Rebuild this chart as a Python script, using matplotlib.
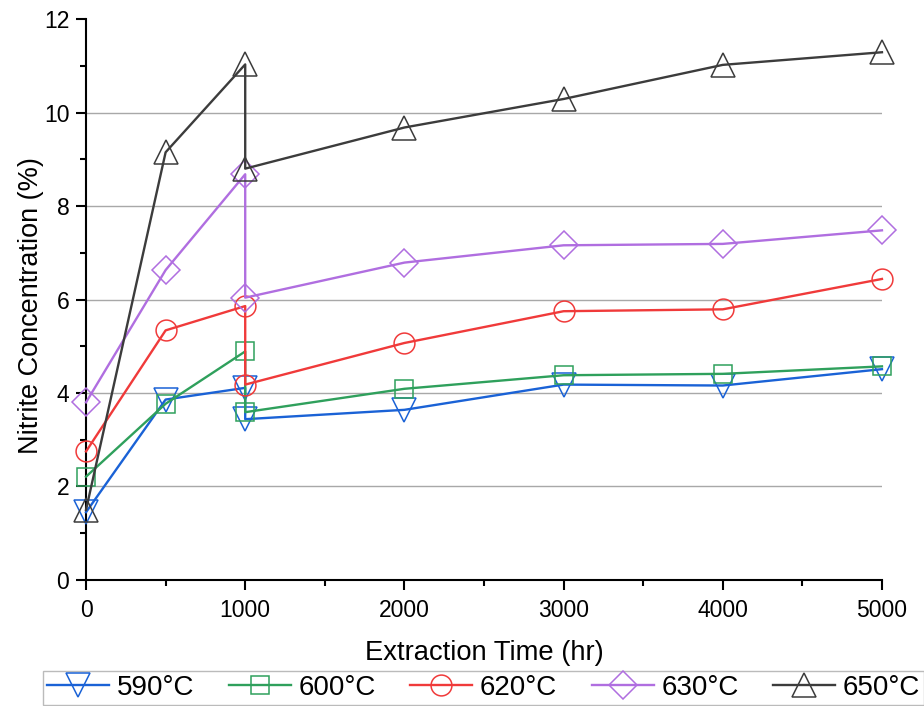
import matplotlib
matplotlib.use("Agg")
import matplotlib.pyplot as plt
from matplotlib.ticker import MultipleLocator

plt.rcParams['font.family'] = ['Liberation Sans', 'DejaVu Sans']

# Extraction time (hr); 1000 hr appears twice (before/after step)
times = [0, 500, 1000, 1000, 2000, 3000, 4000, 5000]

temps = ['590°C', '600°C', '620°C', '630°C', '650°C']

c590 = [1.45, 3.86, 4.11, 3.44, 3.64, 4.18, 4.16, 4.51]
c600 = [2.21, 3.77, 4.89, 3.59, 4.09, 4.38, 4.41, 4.57]
c620 = [2.75, 5.34, 5.86, 4.18, 5.07, 5.75, 5.79, 6.44]
c630 = [3.80, 6.63, 8.68, 6.04, 6.79, 7.16, 7.19, 7.48]
c650 = [1.50, 9.15, 11.03, 8.80, 9.68, 10.29, 11.02, 11.29]

series = [c590, c600, c620, c630, c650]
colors = ['#1a62d6', '#2fa05c', '#f03a3a', '#b06ee0', '#3c3c3c']
markers = ['v', 's', 'o', 'D', '^']
msizes = [17, 13, 15, 14, 17]

fig = plt.figure(figsize=(9.24, 7.06), dpi=100)
ax = fig.add_axes([0.0931, 0.1785, 0.8614, 0.7945])

for vals, lab, col, mk, ms in zip(series, temps, colors, markers, msizes):
    ax.plot(times, vals, color=col, lw=1.7, marker=mk, markersize=ms,
            markerfacecolor='none', markeredgecolor=col, markeredgewidth=1.1,
            label=lab, clip_on=False, zorder=3)

ax.set_xlim(0, 5000)
ax.set_ylim(0, 12)
ax.xaxis.set_major_locator(MultipleLocator(1000))
ax.xaxis.set_minor_locator(MultipleLocator(500))
ax.yaxis.set_major_locator(MultipleLocator(2))
ax.yaxis.set_minor_locator(MultipleLocator(1))

for s in ['top', 'right']:
    ax.spines[s].set_visible(False)
for s in ['left', 'bottom']:
    ax.spines[s].set_linewidth(1.5)
    ax.spines[s].set_color('black')

ax.tick_params(axis='both', which='major', direction='out', length=7, width=1.5,
               labelsize=16.5)
ax.tick_params(axis='x', which='major', pad=7)
ax.tick_params(axis='y', which='major', pad=5)
ax.tick_params(axis='both', which='minor', direction='out', length=4, width=1.5)

for yv in [2, 4, 6, 8, 10]:
    ax.axhline(yv, color='#a8a8a8', lw=1.0, zorder=1)

ax.set_xlabel('Extraction Time (hr)', fontsize=19.7, labelpad=13)
ax.set_ylabel('Nitrite Concentration (%)', fontsize=19.5)
ax.yaxis.set_label_coords(-0.053, 0.49)

leg = fig.legend(loc='upper left', bbox_to_anchor=(0.0465, 0.0496), ncol=5,
                 fontsize=20, frameon=True, fancybox=False, handlelength=2.23,
                 columnspacing=1.25, handletextpad=0.27, borderpad=0.15,
                 borderaxespad=0.0, markerscale=1.0)
leg.get_frame().set_edgecolor('#aaaaaa')
leg.get_frame().set_linewidth(1.0)

fig.savefig('out.png', dpi=100)
